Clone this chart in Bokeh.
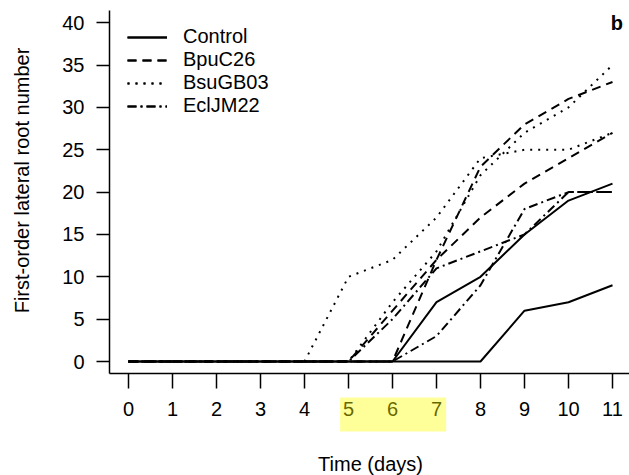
import math
from bokeh.plotting import figure
from bokeh.models import (Range1d, FixedTicker, Legend, LegendItem, Label, BoxAnnotation, LinearAxis)
from bokeh.embed import file_html
from bokeh.resources import INLINE

# ---- data ----
days = [0, 1, 2, 3, 4, 5, 6, 7, 8, 9, 10, 11]
y_ticks = [0, 5, 10, 15, 20, 25, 30, 35, 40]
highlight_days = [5, 6, 7]

treatments = ["Control", "BpuC26", "BsuGB03", "EclJM22"]
control_a = [0, 0, 0, 0, 0, 0, 0, 7, 10, 15, 19, 21]
control_b = [0, 0, 0, 0, 0, 0, 0, 0, 0, 6, 7, 9]
bpuc26_a = [0, 0, 0, 0, 0, 0, 6, 12, 17, 21, 24, 27]
bpuc26_b = [0, 0, 0, 0, 0, 0, 0, 12, 23, 28, 31, 33]
bsugb03_a = [0, 0, 0, 0, 0, 10, 12, 17, 24, 25, 25, 27]
bsugb03_b = [0, 0, 0, 0, 0, 0, 7, 13, 22, 27, 30, 35]
ecljm22_a = [0, 0, 0, 0, 0, 0, 0, 3, 9, 18, 20, 20]
ecljm22_b = [0, 0, 0, 0, 0, 0, 5, 11, 13, 15, 20, 20]

series = {
    "Control": [control_a, control_b],
    "BpuC26": [bpuc26_a, bpuc26_b],
    "BsuGB03": [bsugb03_a, bsugb03_b],
    "EclJM22": [ecljm22_a, ecljm22_b],
}
dashes = {"Control": "solid", "BpuC26": "9 6", "BsuGB03": "2 6", "EclJM22": "9 4 2 4"}

FONT = "Liberation Sans"
FS = "20px"

W, H = 629, 475
PX_X = 44.0     # pixels per day
PX_Y = 8.47     # pixels per root
X0_PX = 128     # pixel of day 0
Y0_PX = 361     # pixel of value 0
AXIS_X_PX = 109
AXIS_Y_PX = 373
TOP_PX = 10


def xv(px):
    return (px - X0_PX) / PX_X


def yv(py):
    return (Y0_PX - py) / PX_Y


p = figure(width=W, height=H, output_backend="svg", toolbar_location=None,
           x_axis_type=None, y_axis_type=None,
           x_range=Range1d(xv(0), xv(W)), y_range=Range1d(yv(H), yv(0)),
           min_border=0, min_border_left=0, min_border_right=0,
           min_border_top=0, min_border_bottom=0)
p.outline_line_color = None
p.background_fill_color = "white"
p.border_fill_color = "white"

items = []
for name in treatments:
    rs = []
    for vals in series[name]:
        r = p.line(days, vals, line_color="black", line_width=2, line_dash=dashes[name])
        rs.append(r)
    items.append(LegendItem(label=name, renderers=rs))

legend = Legend(items=items, location=(127, H - 25 - 92), margin=0, padding=0,
                glyph_width=40, glyph_height=20, label_height=20, spacing=0,
                label_standoff=16, label_text_font=FONT, label_text_font_size=FS,
                label_text_color="black", border_line_color=None,
                background_fill_alpha=0)
p.add_layout(legend)

# axes (placed at fixed locations inside the plotting area)
xaxis = LinearAxis(ticker=FixedTicker(ticks=days), fixed_location=yv(AXIS_Y_PX),
                   bounds=(xv(AXIS_X_PX), xv(W)))
yaxis = LinearAxis(ticker=FixedTicker(ticks=y_ticks), fixed_location=xv(AXIS_X_PX),
                   bounds=(yv(AXIS_Y_PX), yv(TOP_PX)))
for ax in (xaxis, yaxis):
    ax.axis_line_color = "black"
    ax.axis_line_width = 1.5
    ax.major_tick_line_color = "black"
    ax.major_tick_line_width = 1.5
    ax.major_tick_in = 0
    ax.minor_tick_line_color = None
    ax.major_label_text_font = FONT
    ax.major_label_text_font_size = FS
    ax.major_label_text_color = "black"
xaxis.major_tick_out = 15
xaxis.major_label_standoff = 13
yaxis.major_tick_out = 13
yaxis.major_label_standoff = 12
p.add_layout(xaxis, "below")
p.add_layout(yaxis, "left")

# axis titles
p.add_layout(Label(x=xv(370), y=yv(463), text="Time (days)", text_font=FONT,
                   text_font_size=FS, text_align="center", text_baseline="middle",
                   text_color="black"))
p.add_layout(Label(x=xv(21), y=yv(180), text="First-order lateral root number",
                   text_font=FONT, text_font_size=FS, text_align="center",
                   text_baseline="middle", angle=math.pi / 2, text_color="black"))

# highlight of days 5-7 on the x axis labels
hl = BoxAnnotation(left=min(highlight_days) - 0.19, right=max(highlight_days) + 0.22,
                   bottom=yv(431), top=yv(397),
                   fill_color="#FFFF00", fill_alpha=0.4, line_color=None)
p.add_layout(hl)

p.add_layout(Label(x=11.1, y=40, text="b", text_font=FONT, text_font_size="20px",
                   text_font_style="bold", text_align="center", text_baseline="middle",
                   text_color="black"))

open("out.html", "w").write(file_html(p, INLINE))
